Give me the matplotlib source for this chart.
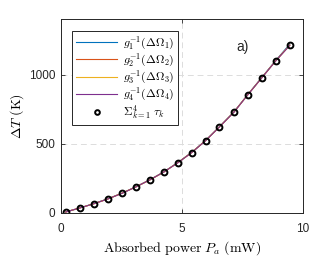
import numpy as np
import matplotlib
matplotlib.use("Agg")
import matplotlib.pyplot as plt

# ── Données ─────────────────────────────────────────────────────────────────
power_mw = [0.19, 0.77, 1.36, 1.93, 2.52, 3.09, 3.67, 4.24, 4.83, 5.40,
            5.98, 6.55, 7.15, 7.73, 8.31, 8.87, 9.46]
delta_t_sum = [7, 36, 67, 101, 143, 188, 239, 295, 364, 437,
               524, 623, 730, 857, 980, 1099, 1217]
# courbes g_k^{-1}(ΔΩ_k), quasi superposées
delta_t_g = [
    [7, 36, 68, 102, 143, 189, 240, 296, 365, 438, 525, 624, 731, 858, 982, 1101, 1222],
    [7, 36, 67, 101, 143, 188, 239, 295, 364, 437, 524, 623, 730, 857, 980, 1099, 1215],
    [7, 36, 67, 101, 143, 188, 239, 295, 364, 437, 524, 623, 730, 857, 980, 1099, 1214],
    [7, 36, 67, 101, 142, 188, 239, 295, 363, 436, 523, 622, 729, 856, 979, 1098, 1212],
]
g_labels = [r"$g_1^{-1}(\Delta\Omega_1)$", r"$g_2^{-1}(\Delta\Omega_2)$",
            r"$g_3^{-1}(\Delta\Omega_3)$", r"$g_4^{-1}(\Delta\Omega_4)$"]
sum_label = r"$\Sigma_{k=1}^{4}\;\tau_k$"
x_ticks = [0, 5, 10]
y_ticks = [0, 500, 1000]

colors = ["#0072BD", "#D95319", "#EDB120", "#7E2F8E"]

plt.rcParams["font.family"] = ["Liberation Sans", "DejaVu Sans"]
plt.rcParams["mathtext.fontset"] = "cm"

fig = plt.figure(figsize=(3.35, 2.56), dpi=100)
ax = fig.add_axes([0.182, 0.168, 0.722, 0.756])

for yv, c, lab in zip(delta_t_g, colors, g_labels):
    ax.plot(power_mw, yv, color=c, lw=0.8, label=lab)
ax.plot(power_mw, delta_t_sum, ls="none", marker="o", ms=4.2, mew=1.4,
        mfc="none", mec="black", label=sum_label)

ax.set_xlim(0, 10)
ax.set_ylim(0, 1400)
ax.set_xticks(x_ticks)
ax.set_yticks(y_ticks)
ax.tick_params(direction="in", length=3, width=0.6, labelsize=8.5,
               colors="#262626", top=True, right=True, pad=4)
ax.tick_params(axis="x", pad=7)
for s in ax.spines.values():
    s.set_color("#262626")
    s.set_linewidth(0.7)
ax.grid(True, ls=(0, (6, 4)), color="#dcdcdc", lw=0.7)
ax.set_axisbelow(True)

ax.set_xlabel(r"$\mathrm{Absorbed\ power}\ P_a\ \mathrm{(mW)}$", fontsize=10, labelpad=3)
ax.set_ylabel(r"$\Delta T\ \mathrm{(K)}$", fontsize=10, labelpad=2)

ax.text(0.727, 0.835, "a)", transform=ax.transAxes, fontsize=10, color="#262626")

leg = ax.legend(loc="upper left", bbox_to_anchor=(0.047, 0.94), borderaxespad=0,
                fancybox=False, edgecolor="#262626", fontsize=8.5, framealpha=1,
                handlelength=3.5, labelspacing=0.0, handletextpad=0.45,
                borderpad=0.3, markerscale=0.8)
leg.get_frame().set_linewidth(0.7)

fig.savefig("out.png", dpi=100)
